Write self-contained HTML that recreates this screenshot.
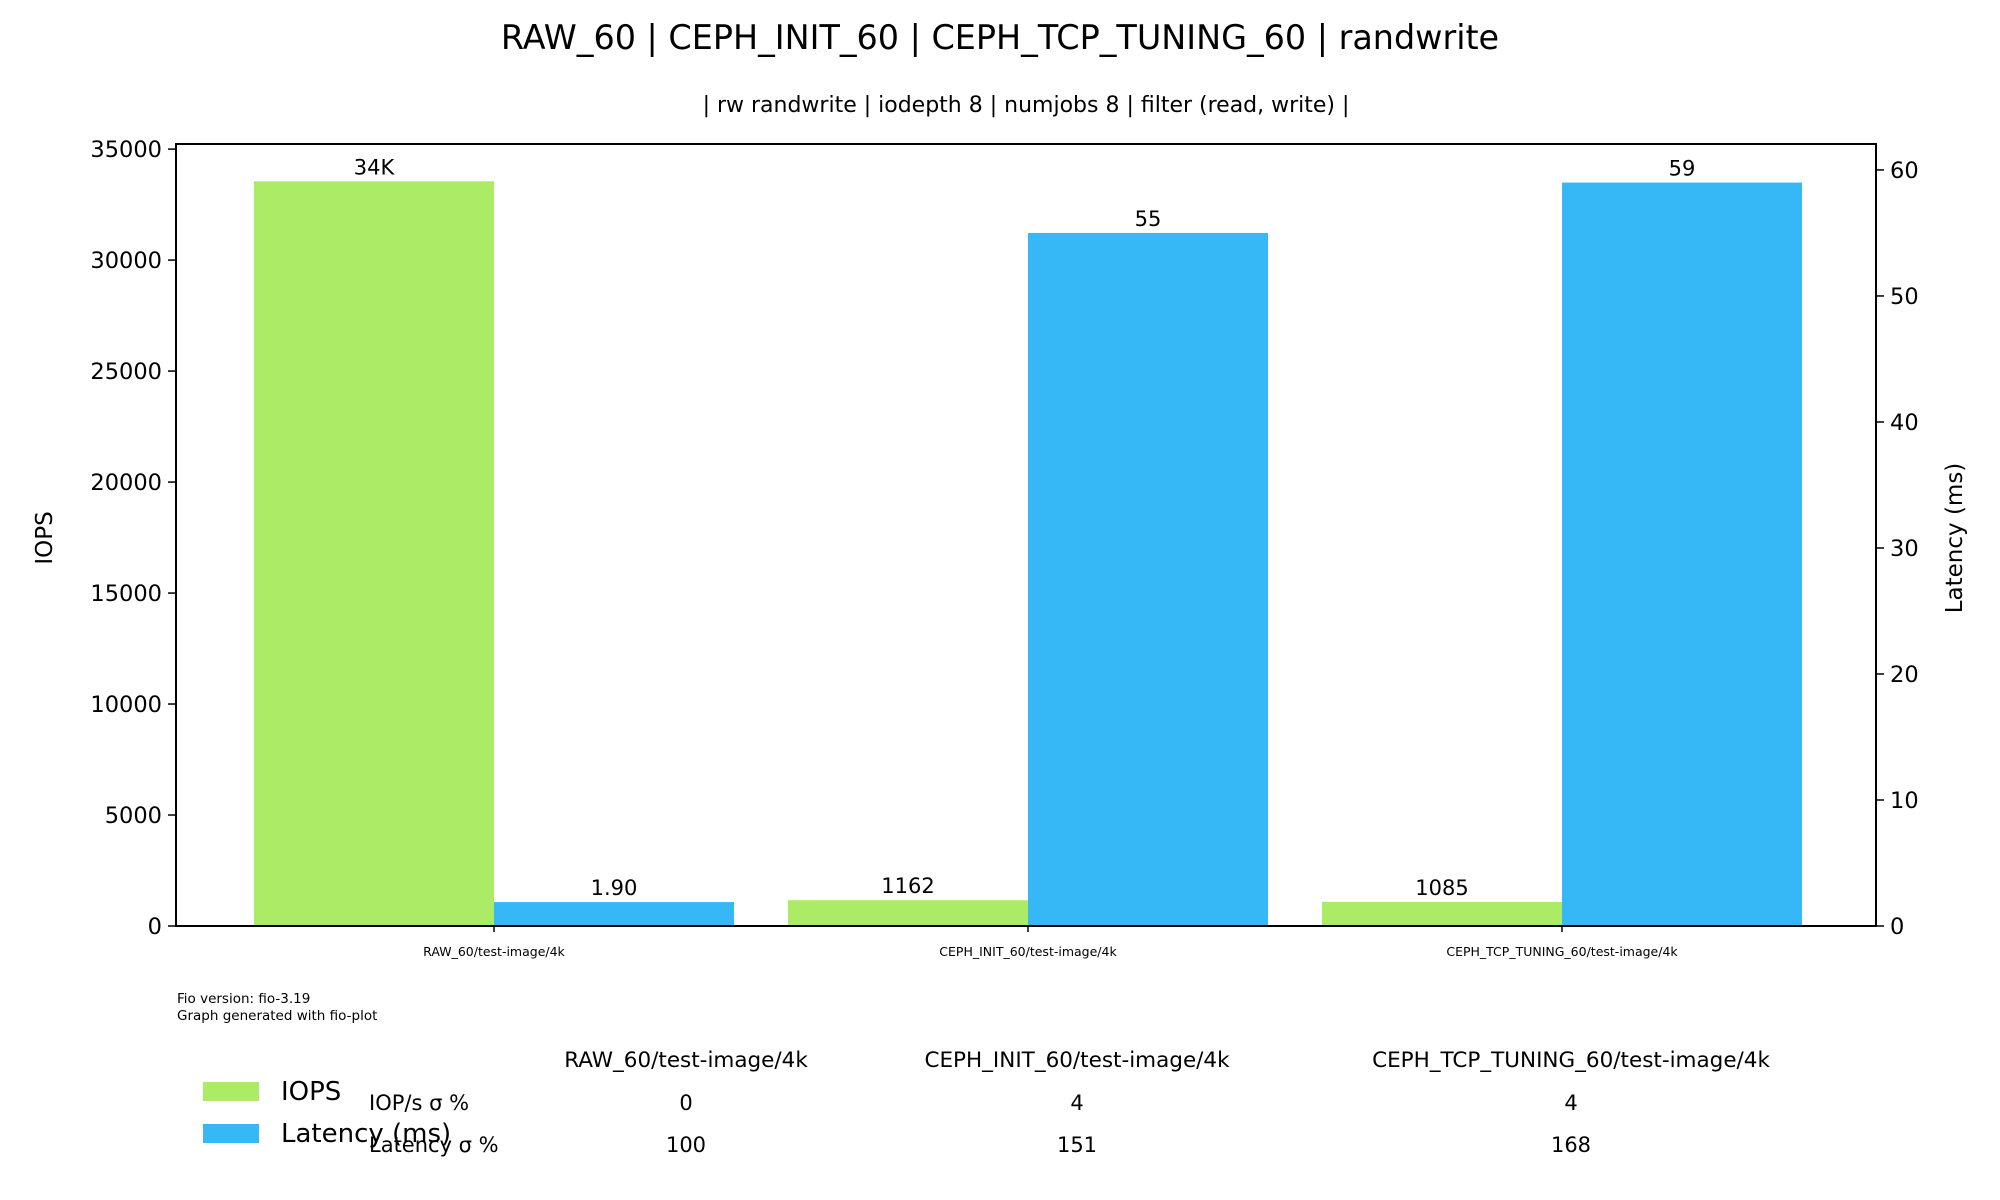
<!DOCTYPE html>
<html><head><meta charset="utf-8"><style>
html,body{margin:0;padding:0;background:#fff;}
svg{display:block;font-family:"DejaVu Sans","Liberation Sans",sans-serif;}
</style></head><body>
<svg id="chart" width="2000" height="1200" viewBox="0 0 2000 1200">
<text x="1000" y="49" font-size="33.4" text-anchor="middle">RAW_60 | CEPH_INIT_60 | CEPH_TCP_TUNING_60 | randwrite</text>
<text x="1026" y="112" font-size="22" text-anchor="middle">| rw randwrite | iodepth 8 | numjobs 8 | filter (read, write) |</text>
<g id="bars"></g>
<g id="axes"></g>
<text transform="translate(52,538) rotate(-90)" font-size="23" text-anchor="middle">IOPS</text>
<text transform="translate(1962,538) rotate(-90)" font-size="23" text-anchor="middle">Latency (ms)</text>
<text x="177" y="1003" font-size="13.5">Fio version: fio-3.19</text>
<text x="177" y="1020" font-size="13.5">Graph generated with fio-plot</text>
<g>
<rect x="203" y="1082" width="56" height="19" fill="#abeb66"/>
<text x="281" y="1100" font-size="26">IOPS</text>
<rect x="203" y="1124" width="56" height="19" fill="#36b8f7"/>
<text x="281" y="1142" font-size="26">Latency (ms)</text>
</g>
<g id="table"></g>
</svg>
<script>
const categories=["RAW_60/test-image/4k","CEPH_INIT_60/test-image/4k","CEPH_TCP_TUNING_60/test-image/4k"];
const iopsValues=[33550,1162,1085];
const iopsLabels=["34K","1162","1085"];
const latencyValues=[1.90,55,59];
const latencyLabels=["1.90","55","59"];
const iopsTicks=[0,5000,10000,15000,20000,25000,30000,35000];
const latencyTicks=[0,10,20,30,40,50,60];
const iopsStd=["0","4","4"];
const latencyStd=["100","151","168"];

const NS="http://www.w3.org/2000/svg";
const L=176,R=1876,T=144,B=926;
const iopsMax=35230,latMax=62.06;
function yI(v){return B-(v/iopsMax)*(B-T);}
function yL(v){return B-(v/latMax)*(B-T);}
const groupW=534,barW=240,x0=254+barW;
function cx(i){return x0+i*groupW;}
function lblY(top){return Math.min(top-9, B-30);}
function mk(tag,attrs,parent){const e=document.createElementNS(NS,tag);for(const k in attrs)e.setAttribute(k,attrs[k]);parent.appendChild(e);return e;}
const bars=document.getElementById('bars'),axes=document.getElementById('axes'),table=document.getElementById('table');
categories.forEach((c,i)=>{
 const g=mk('rect',{x:cx(i)-barW,y:yI(iopsValues[i]),width:barW,height:B-yI(iopsValues[i]),fill:'#abeb66'},bars);
 
 
 const b=mk('rect',{x:cx(i),y:yL(latencyValues[i]),width:barW,height:B-yL(latencyValues[i]),fill:'#36b8f7'},bars);
 
 
 const t1=mk('text',{x:cx(i)-barW/2,y:lblY(yI(iopsValues[i]))+2,'font-size':21,'text-anchor':'middle'},bars);t1.textContent=iopsLabels[i];
 
 
 const t2=mk('text',{x:cx(i)+barW/2,y:lblY(yL(latencyValues[i]))+2,'font-size':21,'text-anchor':'middle'},bars);t2.textContent=latencyLabels[i];
 
 
 const cl=mk('text',{x:cx(i),y:956,'font-size':12.5,'text-anchor':'middle'},axes);cl.textContent=c;
 
 
 mk('line',{x1:cx(i),x2:cx(i),y1:B,y2:B+6,stroke:'#000','stroke-width':1.5},axes);
 const tx=[686,1077,1571][i];
 const h=mk('text',{x:tx,y:1067,'font-size':21.5,'text-anchor':'middle'},table);h.textContent=c;
 
 
 const r1=mk('text',{x:tx,y:1110,'font-size':21,'text-anchor':'middle'},table);r1.textContent=iopsStd[i];
 
 
 const r2=mk('text',{x:tx,y:1152,'font-size':21,'text-anchor':'middle'},table);r2.textContent=latencyStd[i];
 
 
});
const rl1=mk('text',{x:369,y:1110,'font-size':21},table);rl1.textContent="IOP/s σ %";


const rl2=mk('text',{x:369,y:1152,'font-size':21},table);rl2.textContent="Latency σ %";


iopsTicks.forEach(v=>{
 mk('line',{x1:L-8,x2:L,y1:yI(v),y2:yI(v),stroke:'#000','stroke-width':1.5},axes);
 const t=mk('text',{x:L-14,y:yI(v)+8,'font-size':22.5,'text-anchor':'end'},axes);t.textContent=v;
 
 
});
latencyTicks.forEach(v=>{
 mk('line',{x1:R,x2:R+8,y1:yL(v),y2:yL(v),stroke:'#000','stroke-width':1.5},axes);
 const t=mk('text',{x:R+14,y:yL(v)+8,'font-size':22.5},axes);t.textContent=v;
 
 
});
const frame=mk('rect',{x:L,y:T,width:R-L,height:B-T,fill:'none',stroke:'#000','stroke-width':2},axes);


</script>
</body></html>
